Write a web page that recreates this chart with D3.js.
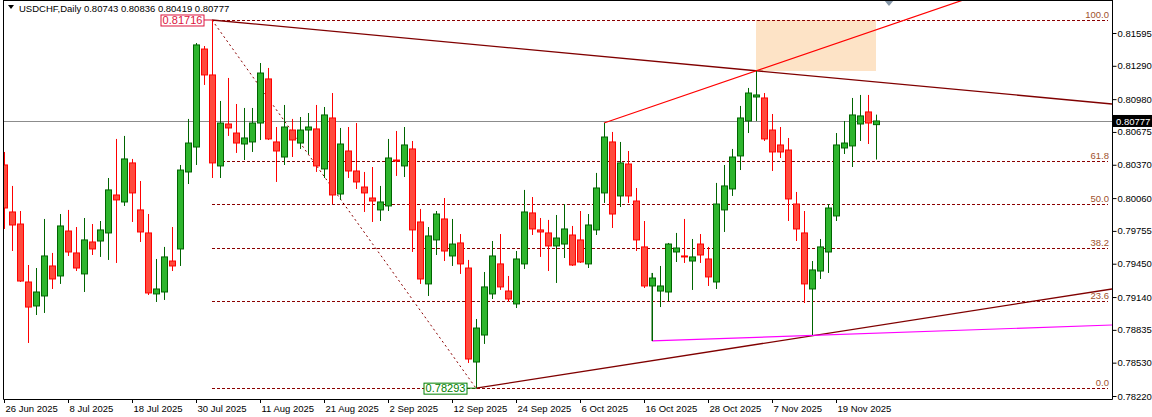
<!DOCTYPE html>
<html>
<head>
<meta charset="utf-8">
<script src="https://cdn.jsdelivr.net/npm/d3@7"></script>
<style>
body { margin: 0; background: #fff; }
svg text { font-family: "Liberation Sans", Arial, sans-serif; font-size: 9.5px; }
</style>
</head>
<body>
<script>
const width = 1152;
const height = 417;

// daily OHLC, USDCHF, first bar 26 Jun 2025 (weekdays)
const opens = [0.80368,0.79931,0.79819,0.79280,0.79057,0.79150,0.79429,0.79336,0.79754,0.79550,
  0.79355,0.79652,0.79661,0.79736,0.80089,0.80024,0.80387,0.79950,0.79736,0.79169,
  0.79187,0.79475,0.79587,0.80303,0.80535,0.81446,0.81205,0.80359,0.80749,0.80665,
  0.80563,0.80582,0.80758,0.81168,0.80582,0.80442,0.80693,0.80572,0.80693,0.80703,
  0.80331,0.80805,0.80098,0.80498,0.80312,0.80163,0.80061,0.79950,0.79987,0.80414,
  0.80359,0.80517,0.79838,0.79262,0.79671,0.79866,0.79522,0.79643,0.79410,0.78536,
  0.78787,0.79169,0.79448,0.79196,0.79076,0.79448,0.79922,0.79764,0.79736,0.79615,
  0.79633,0.79717,0.79671,0.79448,0.79764,0.80108,0.80582,0.80080,0.80377,0.80033,
  0.79606,0.79243,0.79196,0.79187,0.79559,0.79522,0.79475,0.79633,0.79494,0.79280,
  0.79950,0.80145,0.80452,0.80777,0.81000,0.80991,0.80693,0.80554,0.80507,0.80005,
  0.79736,0.79215,0.79382,0.79559,0.79894,0.80526,0.80545,0.80749,0.80861,0.80743];
const highs = [0.80489,0.80173,0.79940,0.79438,0.79410,0.79866,0.79550,0.79912,0.79950,0.79791,
  0.79875,0.79819,0.79847,0.80247,0.80610,0.80638,0.80424,0.80219,0.79912,0.79494,
  0.79606,0.79791,0.80368,0.80796,0.81502,0.81474,0.81716,0.80963,0.81177,0.80935,
  0.80898,0.80898,0.81316,0.81270,0.80721,0.80926,0.80796,0.80814,0.80851,0.80926,
  0.80907,0.81037,0.80712,0.80721,0.80758,0.80303,0.80349,0.80173,0.80610,0.80684,
  0.80721,0.80591,0.79959,0.79791,0.79940,0.80061,0.79866,0.79726,0.79485,0.78936,
  0.79373,0.79661,0.79726,0.79336,0.79568,0.80136,0.80070,0.79875,0.79857,0.79903,
  0.80005,0.79801,0.79940,0.79912,0.80294,0.80758,0.80675,0.80582,0.80498,0.80154,
  0.79847,0.79364,0.79429,0.79643,0.79736,0.79866,0.79680,0.79726,0.79606,0.80201,
  0.80368,0.80517,0.80917,0.81084,0.81242,0.81037,0.80842,0.80721,0.80619,0.80117,
  0.79940,0.79475,0.79680,0.80005,0.80665,0.80777,0.80991,0.81019,0.81019,0.80836];
const lows = [0.79773,0.79568,0.79280,0.78713,0.78973,0.78992,0.79215,0.79262,0.79522,0.79382,
  0.79187,0.79531,0.79513,0.79485,0.79457,0.79987,0.79838,0.79652,0.79159,0.79094,
  0.79113,0.79382,0.79429,0.80191,0.80368,0.81112,0.80247,0.80247,0.80638,0.80480,
  0.80414,0.80489,0.80600,0.80600,0.80210,0.80368,0.80442,0.80517,0.80470,0.80303,
  0.80247,0.80005,0.80043,0.80247,0.80145,0.79931,0.79838,0.79847,0.79940,0.80266,
  0.80256,0.79559,0.79262,0.79150,0.79531,0.79475,0.79429,0.79355,0.78527,0.78293,
  0.78704,0.79122,0.79206,0.79094,0.79038,0.79401,0.79717,0.79513,0.79382,0.79271,
  0.79503,0.79429,0.79457,0.79410,0.79717,0.80015,0.79782,0.79977,0.80015,0.79568,
  0.79224,0.78732,0.79047,0.79103,0.79466,0.79457,0.79206,0.79457,0.79243,0.79215,
  0.79745,0.80080,0.80321,0.80665,0.80777,0.80591,0.80312,0.80433,0.79847,0.79661,
  0.79085,0.78787,0.79308,0.79364,0.79847,0.80470,0.80349,0.80591,0.80563,0.80419];
const closes = [0.79968,0.79810,0.79289,0.79047,0.79187,0.79522,0.79308,0.79801,0.79559,0.79410,
  0.79671,0.79587,0.79764,0.80136,0.80043,0.80424,0.80108,0.79745,0.79178,0.79215,
  0.79513,0.79429,0.80321,0.80572,0.81484,0.81205,0.80387,0.80758,0.80712,0.80572,
  0.80619,0.80758,0.81223,0.80610,0.80498,0.80721,0.80600,0.80693,0.80721,0.80359,
  0.80833,0.80089,0.80563,0.80312,0.80210,0.80108,0.80033,0.80024,0.80433,0.80405,
  0.80554,0.79764,0.79308,0.79708,0.79912,0.79568,0.79633,0.79448,0.78564,0.78852,
  0.79234,0.79522,0.79234,0.79122,0.79494,0.79931,0.79773,0.79745,0.79615,0.79689,
  0.79773,0.79438,0.79466,0.79810,0.80154,0.80628,0.79912,0.80387,0.80080,0.79671,
  0.79243,0.79317,0.79243,0.79633,0.79596,0.79513,0.79513,0.79531,0.79327,0.80005,
  0.80173,0.80442,0.80805,0.81037,0.81019,0.80610,0.80489,0.80489,0.80052,0.79773,
  0.79262,0.79392,0.79606,0.79968,0.80554,0.80572,0.80833,0.80824,0.80758,0.80777];

const priceTicks = [0.81595,0.81290,0.80980,0.80675,0.80370,0.80060,0.79755,0.79450,0.79140,0.78835,0.78530,0.78220];
const fibLevels = [100.0, 61.8, 50.0, 38.2, 23.6, 0.0];
const fibHigh = 0.81716, fibLow = 0.78293;
const fibFrom = 26, fibTo = 59;          // bar indexes of swing high / low
const lastPrice = 0.80777;
const upperTrend = [[26, 0.81716], [138.5, 0.80935]];
const lowerTrend = [[59, 0.78293], [138.5, 0.79215]];
const redRay = [[75, 0.80758], [94, 0.81242]];
const pinkLine = [[81, 0.78732], [138.5, 0.78880]];
const zone = {from: 94, to: 109, top: 0.81716, bottom: 0.81242};

// dates: weekdays from 26 Jun 2025
const dates = [];
let dt = new Date(2025, 5, 26);
while (dates.length < closes.length) {
    if (dt.getDay() !== 0 && dt.getDay() !== 6) dates.push(new Date(dt));
    dt = new Date(dt.getFullYear(), dt.getMonth(), dt.getDate() + 1);
}
const bars = closes.map((c, i) => ({i: i, o: opens[i], h: highs[i], l: lows[i], c: c}));

const plotL = 3, plotR = 1112, plotT = 0, plotB = 399;
const x = d3.scaleLinear().domain([0, 138.5]).range([4, 1112]);
const y = d3.scaleLinear().domain([0.78220, 0.81595]).range([396, 33]);

const svg = d3.select("body").append("svg")
    .attr("width", width)
    .attr("height", height);

svg.append("defs").append("clipPath").attr("id", "clip")
    .append("rect").attr("x", plotL).attr("y", plotT).attr("width", plotR - plotL).attr("height", plotB - plotT);

const g = svg.append("g").attr("clip-path", "url(#clip)");

// target zone
g.append("rect")
    .attr("x", x(zone.from)).attr("y", y(zone.top))
    .attr("width", x(zone.to) - x(zone.from)).attr("height", y(zone.bottom) - y(zone.top))
    .attr("fill", "#fde3c6");

// fibo levels
const fibColor = "#8b0000";
fibLevels.forEach(lv => {
    const p = fibLow + (fibHigh - fibLow) * lv / 100;
    g.append("line")
        .attr("x1", x(fibFrom)).attr("x2", plotR - 4)
        .attr("y1", Math.round(y(p)) + 0.5).attr("y2", Math.round(y(p)) + 0.5)
        .attr("stroke", fibColor).attr("stroke-dasharray", "3,2");
    svg.append("text")
        .attr("x", plotR - 3).attr("y", Math.round(y(p)) - 2)
        .attr("text-anchor", "end").attr("fill", "#a0522d")
        .text(lv.toFixed(1));
});
g.append("line")
    .attr("x1", x(fibFrom)).attr("y1", y(fibHigh))
    .attr("x2", x(fibTo)).attr("y2", y(fibLow))
    .attr("stroke", fibColor).attr("stroke-dasharray", "2,3");

// last price line
g.append("line")
    .attr("x1", plotL).attr("x2", plotR)
    .attr("y1", Math.round(y(lastPrice)) + 0.5).attr("y2", Math.round(y(lastPrice)) + 0.5)
    .attr("stroke", "#8c8c8c");

function ray(pts, ext, color, w) {
    const [a, b] = pts;
    const k = (b[1] - a[1]) / (b[0] - a[0]);
    g.append("line")
        .attr("x1", x(a[0])).attr("y1", y(a[1]))
        .attr("x2", x(ext)).attr("y2", y(a[1] + k * (ext - a[0])))
        .attr("stroke", color).attr("stroke-width", w);
}
ray(upperTrend, 138.5, "#800000", 1.3);
ray(lowerTrend, 138.5, "#800000", 1.3);
ray(redRay, 138.5, "#ff0000", 1.2);
ray(pinkLine, 138.5, "#ff00ff", 1.2);
g.append("line")
    .attr("x1", x(pinkLine[0][0])).attr("x2", x(pinkLine[0][0]))
    .attr("y1", y(lows[pinkLine[0][0]])).attr("y2", y(highs[pinkLine[0][0]]))
    .attr("stroke", "#006400");

// candles
const candle = g.selectAll("g.c").data(bars).enter().append("g");
candle.append("line")
    .attr("x1", d => Math.round(x(d.i)) + 0.5).attr("x2", d => Math.round(x(d.i)) + 0.5)
    .attr("y1", d => y(d.h)).attr("y2", d => y(d.l))
    .attr("stroke", d => d.c >= d.o ? "#006400" : "#ff0000");
candle.append("rect")
    .attr("x", d => Math.round(x(d.i)) - 2.5)
    .attr("y", d => y(Math.max(d.o, d.c)))
    .attr("width", 6)
    .attr("height", d => Math.max(1, Math.abs(y(d.o) - y(d.c))))
    .attr("fill", d => d.c >= d.o ? "#2db52d" : "#ff4a3d")
    .attr("stroke", d => d.c >= d.o ? "#006400" : "#ff0000");

// price labels of fibo anchors
function tag(bx, p, txt, color) {
    const w = 43;
    const by = y(p) - 5;
    svg.append("rect").attr("x", bx).attr("y", by).attr("width", w).attr("height", 11)
        .attr("fill", "#fff").attr("stroke", color);
    svg.append("text").attr("x", bx + w / 2).attr("y", by + 9).attr("text-anchor", "middle")
        .attr("fill", color).style("font-size", "11px").text(txt);
}
tag(x(fibFrom) - 51, fibHigh, fibHigh.toFixed(5), "#dc143c");
svg.append("line").attr("x1", x(fibFrom) - 8).attr("x2", x(fibFrom)).attr("y1", y(fibHigh)).attr("y2", y(fibHigh)).attr("stroke", "#dc143c");
tag(x(fibTo) - 52, fibLow, fibLow.toFixed(5), "#008000");
svg.append("line").attr("x1", x(fibTo) - 9).attr("x2", x(fibTo)).attr("y1", y(fibLow)).attr("y2", y(fibLow)).attr("stroke", "#008000");

// marker at top
svg.append("path").attr("d", "M884,0 L894,0 L889,6 Z").attr("fill", "#8496a8");

// frame
svg.append("path")
    .attr("d", `M${plotL + 0.5},${plotT} V${plotB + 0.5} H${plotR + 0.5} V${plotT}`)
    .attr("fill", "none").attr("stroke", "#000");
svg.append("line").attr("x1", plotL).attr("x2", plotR).attr("y1", 0.5).attr("y2", 0.5).attr("stroke", "#000");

// price axis
const yAxis = d3.axisRight(y).tickValues(priceTicks).tickSize(4).tickFormat(d3.format(".5f"));
const ya = svg.append("g").attr("transform", `translate(${plotR + 0.5},0)`).call(yAxis);
ya.select(".domain").remove();
ya.selectAll("text").attr("x", 5).style("font-family", "'Liberation Sans', Arial, sans-serif").style("font-size", "9.5px");

// current price box
svg.append("rect").attr("x", plotR + 1).attr("y", y(lastPrice) - 6).attr("width", 40).attr("height", 12).attr("fill", "#000");
svg.append("text").attr("x", plotR + 4).attr("y", y(lastPrice) + 4).attr("fill", "#fff")
    .style("font-size", "9.5px").text(lastPrice.toFixed(5));

// time axis
const fmt = d3.timeFormat("%-d %b %Y");
const xt = svg.append("g");
d3.range(0, bars.length, 8).forEach(i => {
    const px = Math.round(x(i)) + 0.5;
    xt.append("line").attr("x1", px).attr("x2", px).attr("y1", plotB).attr("y2", plotB + 4).attr("stroke", "#000");
    xt.append("text").attr("x", px + 1).attr("y", plotB + 13).text(fmt(dates[i]));
});

// header
svg.append("path").attr("d", "M8,5 L14,5 L11,9 Z").attr("fill", "#000");
svg.append("text").attr("x", 19).attr("y", 12).style("font-size", "9.5px")
    .text(`USDCHF,Daily  ${opens[109].toFixed(5)} ${highs[109].toFixed(5)} ${lows[109].toFixed(5)} ${closes[109].toFixed(5)}`);
</script>
</body>
</html>
